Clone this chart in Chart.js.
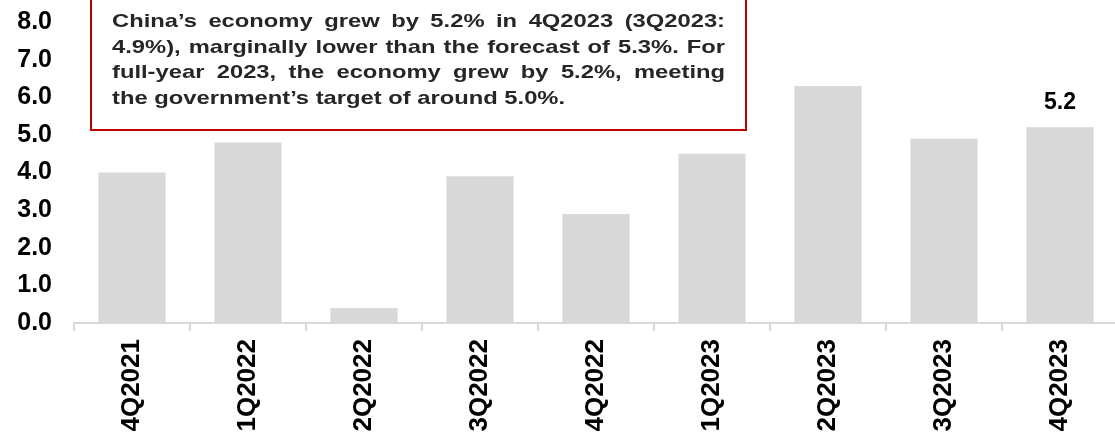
<!DOCTYPE html>
<html>
<head>
<meta charset="utf-8">
<title>China GDP growth</title>
<script src="https://cdn.jsdelivr.net/npm/chart.js@4.4.1/dist/chart.umd.min.js"></script>
<style>
    html, body { margin: 0; padding: 0; background: #fff; overflow: hidden; }
    #wrap { width: 1120px; height: 441px; }
</style>
</head>
<body>
<div id="wrap"><canvas id="gdp-chart" width="1120" height="441"></canvas></div>
<script>
// --- DATA ---
const quarters = ['4Q2021', '1Q2022', '2Q2022', '3Q2022', '4Q2022', '1Q2023', '2Q2023', '3Q2023', '4Q2023'];
const growth = [4.0, 4.8, 0.4, 3.9, 2.9, 4.5, 6.3, 4.9, 5.2];
const labelledBars = [8];
const yTicks = [0, 1, 2, 3, 4, 5, 6, 7, 8];
const noteLines = [
    'China\u2019s economy grew by 5.2% in 4Q2023 (3Q2023:',
    '4.9%), marginally lower than the forecast of 5.3%. For',
    'full-year 2023, the economy grew by 5.2%, meeting',
    'the government\u2019s target of around 5.0%.'
];

const FONT = '"Liberation Sans", Arial, sans-serif';

// value labels above selected bars
const barValueLabels = {
    id: 'barValueLabels',
    afterDatasetsDraw(chart) {
        const { ctx } = chart;
        const meta = chart.getDatasetMeta(0);
        ctx.save();
        ctx.font = `bold 23px ${FONT}`;
        ctx.fillStyle = '#000';
        ctx.textAlign = 'center';
        ctx.textBaseline = 'alphabetic';
        labelledBars.forEach(i => {
            const bar = meta.data[i];
            ctx.fillText(growth[i].toFixed(1), bar.x, bar.y - 18);
        });
        ctx.restore();
    }
};

// boxed commentary in the upper left, justified and slightly widened text
const noteBox = {
    id: 'noteBox',
    afterDraw(chart) {
        const { ctx } = chart;
        const left = 91, right = 746, top = -10, bottom = 130;
        const textLeft = 112, textRight = 725;
        const stretch = 1.25;
        ctx.save();
        ctx.fillStyle = '#fff';
        ctx.fillRect(left, top, right - left, bottom - top);
        ctx.strokeStyle = '#c00000';
        ctx.lineWidth = 2;
        ctx.strokeRect(left, top, right - left, bottom - top);

        ctx.font = `bold 19px ${FONT}`;
        ctx.fillStyle = '#262626';
        ctx.textBaseline = 'alphabetic';
        ctx.textAlign = 'left';
        const avail = (textRight - textLeft) / stretch;
        noteLines.forEach((line, n) => {
            const y = 27 + n * 25.5;
            ctx.save();
            ctx.translate(textLeft, y);
            ctx.scale(stretch, 1);
            const words = line.split(' ');
            if (n === noteLines.length - 1 || words.length < 2) {
                ctx.fillText(line, 0, 0);
            } else {
                const wordsWidth = words.reduce((s, w) => s + ctx.measureText(w).width, 0);
                const gap = (avail - wordsWidth) / (words.length - 1);
                let x = 0;
                words.forEach(w => {
                    ctx.fillText(w, x, 0);
                    x += ctx.measureText(w).width + gap;
                });
            }
            ctx.restore();
        });
        ctx.restore();
    }
};

new Chart(document.getElementById('gdp-chart'), {
    type: 'bar',
    data: {
        labels: quarters,
        datasets: [{
            data: growth,
            backgroundColor: '#d9d9d9',
            borderWidth: 0,
            categoryPercentage: 1,
            barPercentage: 0.58
        }]
    },
    options: {
        responsive: false,
        devicePixelRatio: 1,
        animation: false,
        layout: { padding: { top: 22, right: 2, left: 0, bottom: 0 } },
        plugins: {
            legend: { display: false },
            tooltip: { enabled: false }
        },
        scales: {
            x: {
                offset: true,
                grid: {
                    display: true,
                    drawOnChartArea: false,
                    drawTicks: true,
                    tickLength: 8,
                    color: '#d9d9d9',
                    lineWidth: 2,
                    offset: true
                },
                border: { display: true, color: '#d9d9d9', width: 2 },
                ticks: {
                    autoSkip: false,
                    maxRotation: 90,
                    minRotation: 90,
                    padding: 8,
                    color: '#000',
                    font: { family: FONT, size: 26, weight: 'bold' }
                },
                afterFit(scale) { scale.height = 118; }
            },
            y: {
                min: 0,
                max: 8,
                afterBuildTicks(scale) { scale.ticks = yTicks.map(v => ({ value: v })); },
                grid: { display: false, drawTicks: false },
                border: { display: false },
                ticks: {
                    padding: 22,
                    color: '#000',
                    font: { family: FONT, size: 25, weight: 'bold' },
                    callback: v => Number(v).toFixed(1)
                },
                afterFit(scale) {
                    scale.width = 74;
                    scale.paddingTop = 0;
                    scale.paddingBottom = 0;
                }
            }
        }
    },
    plugins: [barValueLabels, noteBox]
});
</script>
</body>
</html>
